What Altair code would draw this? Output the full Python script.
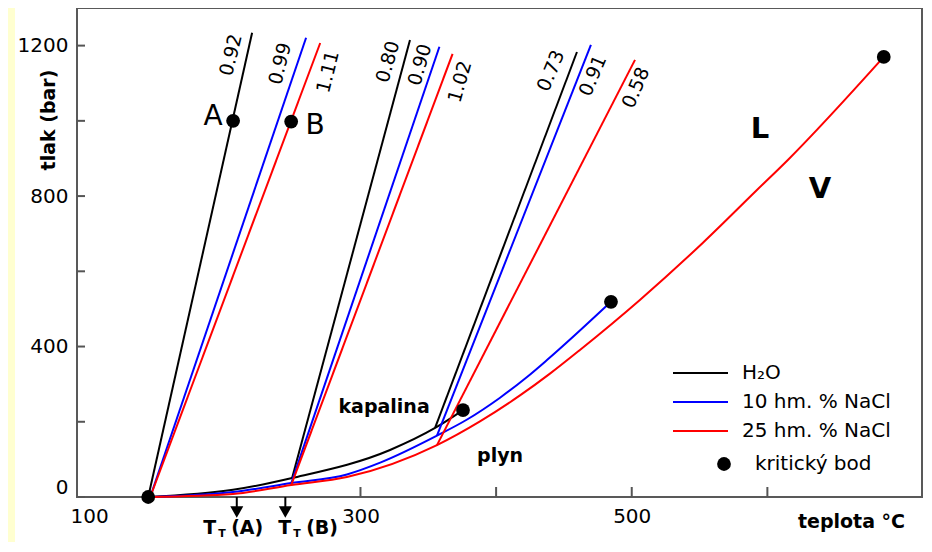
import altair as alt
import pandas as pd

FONT = "DejaVu Sans"

# ---------------- data ----------------
series = ["H₂O", "10 hm. % NaCl", "25 hm. % NaCl"]
colors = ["#000000", "#0000FF", "#FF0000"]

# liquid-vapour curves (teplota °C, tlak bar)
lv_h2o_T = [143.5, 206.0, 249.6, 321.8, 355.0, 375.6]
lv_h2o_P = [0, 19, 50.5, 125, 183.5, 231]
lv_10_T = [145.0, 206.0, 249.0, 290.0, 315.0, 356.4, 378.6, 402.9, 422.8, 437.5, 484.7]
lv_10_P = [0, 13, 37, 60, 92, 163, 206, 264, 319, 364, 519]
lv_25_T = [145.0, 206.0, 249.0, 290.0, 356.4, 388.1, 417.6, 439.7, 461.8, 506.0, 552.5, 592.3, 615.1, 685.8]
lv_25_P = [0, 8, 32, 53, 138, 201, 270, 328, 391, 524, 676, 816, 896, 1170]

# isochores: series index, start T, start P, end T, end P, label, group
iso_series = [0, 1, 2, 0, 1, 2, 0, 1, 2]
iso_T0 = [143.5, 145.0, 145.0, 249.6, 249.0, 249.0, 355.0, 356.4, 356.4]
iso_P0 = [0, 0, 0, 50.5, 37, 32, 183.5, 163, 138]
iso_T1 = [220.1, 259.9, 270.3, 336.5, 358.2, 367.9, 459.6, 469.9, 502.4]
iso_P1 = [1234, 1221, 1207, 1215, 1197, 1178, 1183, 1202, 1162]
iso_label = ["0.92", "0.99", "1.11", "0.80", "0.90", "1.02", "0.73", "0.91", "0.58"]
iso_group = [1, 1, 1, 2, 2, 2, 3, 3, 3]
iso_label_T = [204.6, 240.8, 276.1, 320.3, 343.9, 373.4, 440.5, 471.4, 503.1]
iso_label_P = [1175, 1152, 1130, 1157, 1149, 1104, 1133, 1120, 1088]

# critical points
crit_T = [375.6, 484.7, 685.8]
crit_P = [231, 519, 1170]
crit_kind = "kritický bod"

# other dots (A, B, start)
dot_T = [206.1, 248.9, 143.5]
dot_P = [1000, 998, 0]

# annotations
ab_text = ["A", "B"]
ab_T = [191.4, 266.5]
ab_P = [1009, 987]
lv_text = ["L", "V"]
lv_text_T = [594.5, 638.7]
lv_text_P = [979, 820]
phase_text = ["kapalina", "plyn"]
phase_T = [317.4, 402.9]
phase_P = [239, 109]

# T_T arrows
tt_arrow_T = [208.8, 244.6]
tt_label_T = [184.0, 239.3]
tt_suffix = ["(A)", "(B)"]

# axes
x_labels = [100, 300, 500]
x_ticks = [300, 400, 500, 600]
y_labels = [0, 400, 800, 1200]
y_ticks = [0, 200, 400, 600, 800, 1000, 1200]
y_title = "tlak (bar)"
x_title = "teplota °C"

# ---------------- tables ----------------
rows = []
for s, Ts, Ps in [(0, lv_h2o_T, lv_h2o_P), (1, lv_10_T, lv_10_P), (2, lv_25_T, lv_25_P)]:
    for i, (t, p) in enumerate(zip(Ts, Ps)):
        rows.append({"series": series[s], "cid": f"lv{s}", "i": i, "T": t, "P": p})
for k in range(len(iso_series)):
    s = series[iso_series[k]]
    rows.append({"series": s, "cid": f"iso{k}", "i": 0, "T": iso_T0[k], "P": iso_P0[k]})
    rows.append({"series": s, "cid": f"iso{k}", "i": 1, "T": iso_T1[k], "P": iso_P1[k]})
lines_df = pd.DataFrame(rows)

iso_lab_df = pd.DataFrame({"label": iso_label, "T": iso_label_T, "P": iso_label_P, "g": iso_group})
crit_df = pd.DataFrame({"T": crit_T, "P": crit_P, "kind": [crit_kind] * len(crit_T)})
dot_df = pd.DataFrame({"T": dot_T, "P": dot_P})
ab_df = pd.DataFrame({"t": ab_text, "T": ab_T, "P": ab_P})
lvt_df = pd.DataFrame({"t": lv_text, "T": lv_text_T, "P": lv_text_P})
ph_df = pd.DataFrame({"t": phase_text, "T": phase_T, "P": phase_P})
tt_df = pd.DataFrame({"T": tt_arrow_T})
ttl_df = pd.DataFrame({"T": tt_label_T, "suf": tt_suffix})
xt_df = pd.DataFrame({"T": x_ticks})
yt_df = pd.DataFrame({"P": y_ticks})

W, H = 845, 489
xs = alt.Scale(domain=[91, 714], nice=False, zero=False)
ys = alt.Scale(domain=[0, 1300], nice=False, zero=False)

x_axis = alt.Axis(values=x_labels, format="d", tickSize=0, domain=False, grid=False,
                  labelFont=FONT, labelFontSize=20, labelColor="black", labelPadding=9,
                  labelOverlap=False, labelFlush=False,
                  title=x_title, titleFont=FONT, titleFontSize=19, titleFontWeight="bold",
                  titleColor="black", titleX=774, titleY=24, titleAlign="center",
                  titleBaseline="middle", titleAnchor="start", zindex=1)
y_axis = alt.Axis(values=y_labels, format="d", tickSize=0, domain=False, grid=False,
                  labelFont=FONT, labelFontSize=20, labelColor="black", labelPadding=9,
                  labelOverlap=False, labelFlush=True, title=None, zindex=1)

dummy = alt.Data(values=[{"k": 0}])

panel = alt.Chart(dummy).mark_rect(fill="white").encode(
    x=alt.value(-62), x2=alt.value(W + 10), y=alt.value(-10), y2=alt.value(H + 60))

border = alt.Chart(dummy).mark_rect(fillOpacity=0, stroke="#595959", strokeWidth=2).encode(
    x=alt.value(0), x2=alt.value(W), y=alt.value(0), y2=alt.value(H))

ytitle = alt.Chart(dummy).mark_text(font=FONT, fontSize=19, fontWeight="bold", color="black",
                                    angle=270, align="center", baseline="middle").encode(
    x=alt.value(-28), y=alt.value(112), text=alt.value(y_title))

xt = alt.Chart(xt_df).mark_rule(color="#555555", strokeWidth=2).encode(
    x=alt.X("T:Q", scale=xs, axis=x_axis), y=alt.value(H), y2=alt.value(H - 10))
yt = alt.Chart(yt_df).mark_rule(color="#555555", strokeWidth=2).encode(
    y=alt.Y("P:Q", scale=ys, axis=y_axis), x=alt.value(0), x2=alt.value(8))

lines = alt.Chart(lines_df).mark_line(strokeWidth=2, interpolate="monotone").encode(
    x=alt.X("T:Q", scale=xs, axis=x_axis),
    y=alt.Y("P:Q", scale=ys, axis=y_axis),
    color=alt.Color("series:N", scale=alt.Scale(domain=series, range=colors),
                    legend=alt.Legend(orient="none", legendX=595, legendY=355, title=None,
                                      symbolType="stroke", symbolSize=3025, symbolStrokeWidth=2,
                                      clipHeight=20, rowPadding=9, labelFont=FONT,
                                      labelFontSize=20, labelColor="black", labelOffset=13,
                                      padding=0, labelLimit=0)),
    detail="cid:N",
    order="i:Q",
)

iso_layers = []
for g, ang in [(1, 284), (2, 286), (3, 293)]:
    iso_layers.append(
        alt.Chart(iso_lab_df).transform_filter(alt.datum.g == g)
        .mark_text(font=FONT, fontSize=19, angle=ang, color="black", align="center", baseline="middle")
        .encode(x=alt.X("T:Q", scale=xs), y=alt.Y("P:Q", scale=ys), text="label:N")
    )

dots = alt.Chart(dot_df).mark_point(filled=True, color="black", size=190, opacity=1, shape="circle").encode(
    x=alt.X("T:Q", scale=xs), y=alt.Y("P:Q", scale=ys))

crit = alt.Chart(crit_df).mark_point(filled=True, color="black", size=190, opacity=1).encode(
    x=alt.X("T:Q", scale=xs), y=alt.Y("P:Q", scale=ys),
    shape=alt.Shape("kind:N", scale=alt.Scale(domain=[crit_kind], range=["circle"]),
                    legend=alt.Legend(orient="none", legendX=637, legendY=446, title=None,
                                      symbolSize=190, symbolFillColor="black",
                                      symbolStrokeColor="black", symbolStrokeWidth=0,
                                      clipHeight=20, labelFont=FONT, labelFontSize=20,
                                      labelColor="black", labelOffset=21, padding=0, labelLimit=0)))

ab = alt.Chart(ab_df).mark_text(font=FONT, fontSize=28, color="black", align="center", baseline="middle").encode(
    x=alt.X("T:Q", scale=xs), y=alt.Y("P:Q", scale=ys), text="t:N")
lvt = alt.Chart(lvt_df).mark_text(font=FONT, fontSize=29, fontWeight="bold", color="black",
                                  align="center", baseline="middle").encode(
    x=alt.X("T:Q", scale=xs), y=alt.Y("P:Q", scale=ys), text="t:N")
ph = alt.Chart(ph_df).mark_text(font=FONT, fontSize=19, fontWeight="bold", color="black",
                                align="center", baseline="middle").encode(
    x=alt.X("T:Q", scale=xs), y=alt.Y("P:Q", scale=ys), text="t:N")

stem = alt.Chart(tt_df).mark_rule(color="black", strokeWidth=2).encode(
    x=alt.X("T:Q", scale=xs), y=alt.value(H), y2=alt.value(H + 10))
head = alt.Chart(tt_df).mark_point(shape="triangle-down", filled=True, color="black", size=169, opacity=1).encode(
    x=alt.X("T:Q", scale=xs), y=alt.value(H + 15))

tt_main = alt.Chart(ttl_df).mark_text(font=FONT, fontSize=19, fontWeight="bold", color="black",
                                      align="left", baseline="alphabetic").encode(
    x=alt.X("T:Q", scale=xs), y=alt.value(H + 37), text=alt.value("T"))
tt_sub = alt.Chart(ttl_df).mark_text(font=FONT, fontSize=11, fontWeight="bold", color="black",
                                     align="left", baseline="alphabetic", dx=15).encode(
    x=alt.X("T:Q", scale=xs), y=alt.value(H + 40), text=alt.value("T"))
tt_suf = alt.Chart(ttl_df).mark_text(font=FONT, fontSize=19, fontWeight="bold", color="black",
                                     align="left", baseline="alphabetic", dx=28).encode(
    x=alt.X("T:Q", scale=xs), y=alt.value(H + 37), text="suf:N")

chart = alt.layer(
    panel, border, ytitle, xt, yt, lines, *iso_layers, dots, crit, ab, lvt, ph,
    stem, head, tt_main, tt_sub, tt_suf
).properties(
    width=W, height=H,
    autosize=alt.AutoSizeParams(type="none"),
    padding={"left": 69, "top": 0, "right": 2, "bottom": 45},
    background="#FFFFD0",
).configure_view(strokeOpacity=0)

chart.save("out.html", embed_options={"renderer": "svg", "actions": False})
